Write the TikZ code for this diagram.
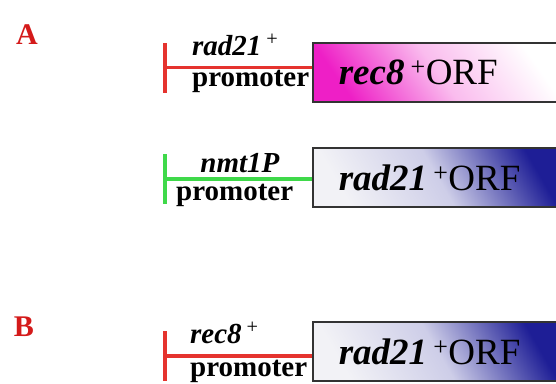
\documentclass[tikz,border=0pt]{standalone}
\usepackage{fontspec}
\setmainfont{Liberation Serif}
\usetikzlibrary{positioning}
\definecolor{labred}{HTML}{D41A1A}
\definecolor{promred}{HTML}{E5332E}
\definecolor{promgreen}{HTML}{3FD94A}
\definecolor{orfpink}{HTML}{EE1FC6}
\definecolor{orfnavy}{HTML}{1E1E96}
\definecolor{orfpale}{HTML}{F2F2F6}
\definecolor{edgegray}{HTML}{333333}
\newcommand{\gene}[1]{\textbf{\textit{#1}}}

\begin{document}
\begin{tikzpicture}[
    x=1pt, y=-1pt,
    panel/.style  = {font=\fontsize{30}{36}\selectfont\bfseries,
                     text=labred, inner sep=0pt},
    tss/.style    = {rectangle, inner sep=0pt,
                     minimum width=4pt, minimum height=50pt},
    prom/.style   = {line width=3.5pt},
    lbl/.style    = {font=\fontsize{29}{31}\selectfont\bfseries,
                     inner sep=0pt, anchor=base west},
    orfbox/.style = {rectangle, draw=edgegray, line width=1.5pt,
                     anchor=west, minimum height=59pt,
                     inner xsep=26pt, text width=198pt, align=left,
                     font=\fontsize{37}{42}\selectfont},
    pinkorf/.style = {orfbox, left color=orfpink, right color=white,
                      middle color=orfpink!30!white, shading angle=125},
    navyorf/.style = {orfbox, left color=orfpale, right color=orfnavy,
                      middle color=orfnavy!22!white, shading angle=120},
]
\useasboundingbox (0,0) rectangle (556,383);

%% ── Panel letters ───────────────────────────────────────────────────────────
\node[panel] (panA) at (27,35)  {A};
\node[panel] (panB) at (24,327) {B};

%% ── A, first construct: rad21+ promoter drives rec8+ ──────────────────────
\node[tss, fill=promred] (tss1) at (165,67.5) {};
\node[pinkorf] (orf1) at (312,72.5) {\gene{rec8}\,\textsuperscript{+}ORF};
\draw[prom, promred] (tss1.center) -- (tss1.center -| orf1.west);
\node[lbl] (up1) at (192,55) {\gene{rad21}\,\textsuperscript{\normalfont+}};
\node[lbl] (lo1) at (192,86) {promoter};

%% ── A, second construct: nmt1 promoter drives rad21+ ──────────────────────
\node[tss, fill=promgreen] (tss2) at (165,179) {};
\node[navyorf] (orf2) at (312,177.5) {\gene{rad21}\,\textsuperscript{+}ORF};
\draw[prom, promgreen] (tss2.center) -- (tss2.center -| orf2.west);
\node[lbl, anchor=base] (up2) at (240,172) {\gene{nmt1P}};
\node[lbl] (lo2) at (176,200) {promoter};

%% ── B: rec8+ promoter drives rad21+ ───────────────────────────────────────
\node[tss, fill=promred] (tss3) at (165,356) {};
\node[navyorf] (orf3) at (312,351.5) {\gene{rad21}\,\textsuperscript{+}ORF};
\draw[prom, promred] (tss3.center) -- (tss3.center -| orf3.west);
\node[lbl] (up3) at (190,343) {\gene{rec8}\,\textsuperscript{\normalfont+}};
\node[lbl] (lo3) at (190,376) {promoter};

\end{tikzpicture}
\end{document}
